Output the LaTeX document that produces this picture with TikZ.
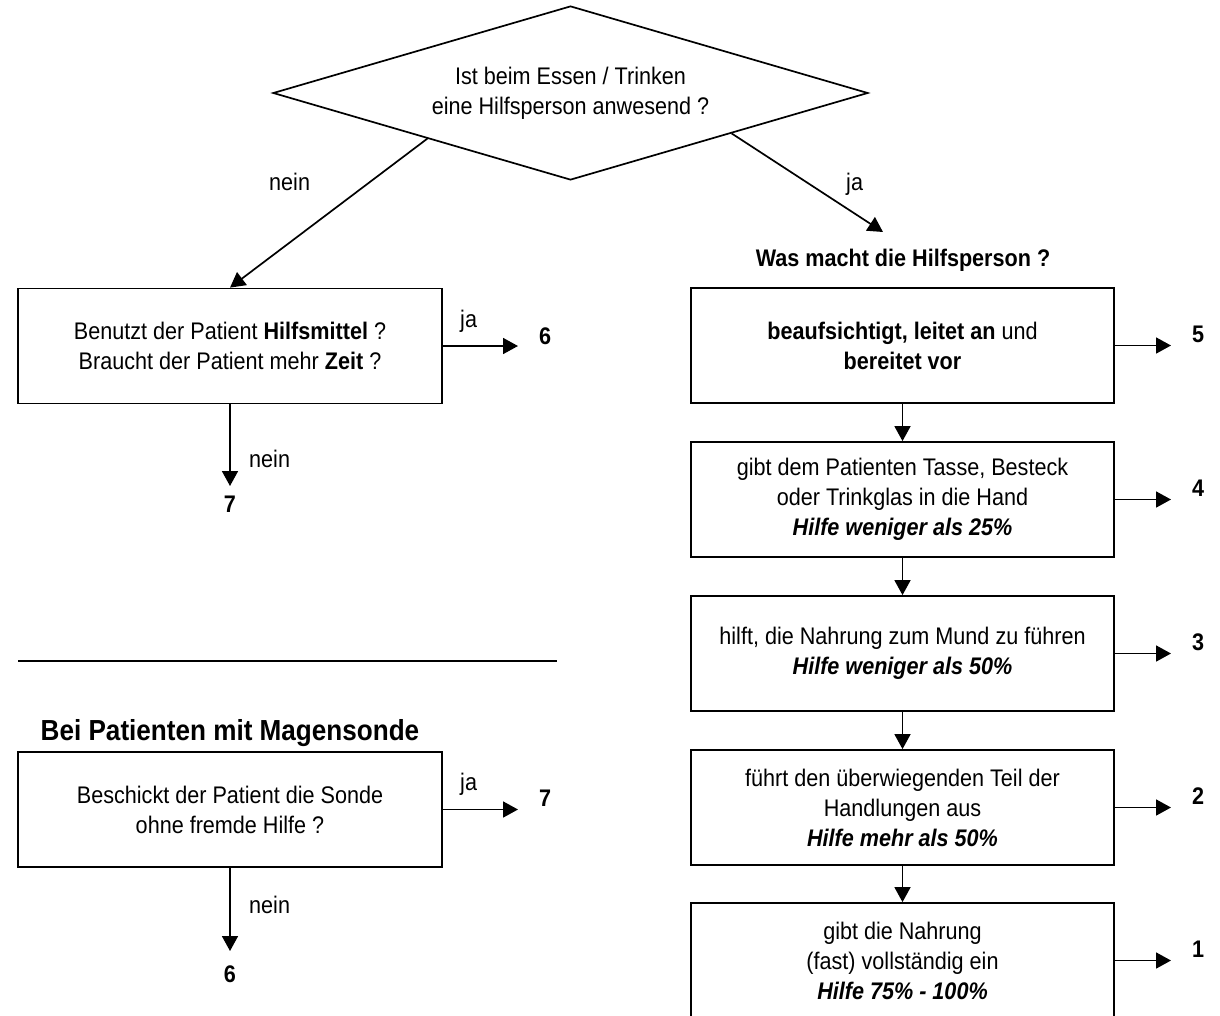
\documentclass[tikz,border=0pt]{standalone}
\usepackage{fontspec}
\setmainfont[FakeStretch=0.9]{Liberation Sans}
\usetikzlibrary{shapes.geometric,arrows.meta,calc}
\begin{document}
\begin{tikzpicture}[x=1pt,y=-1pt,
  every node/.style={font=\fontsize{24}{30}\selectfont, inner sep=0pt},
  box/.style={draw, line width=1.8pt, rectangle, align=center, minimum height=115pt},
  lbox/.style={box, minimum width=424pt},
  rbox/.style={box, minimum width=423pt},
  arr/.style={line width=1.7pt, -{Triangle[length=15pt,width=16pt]}},
  lab/.style={anchor=base west},
  num/.style={anchor=base, font=\fontsize{24}{30}\selectfont\bfseries},
]
\useasboundingbox (0,0) rectangle (1220,1015);
\clip (0,0) rectangle (1220,1015);

% decision at the top
\node[draw, diamond, line width=1.7pt, aspect=3.42, minimum width=595pt,
      minimum height=174pt, align=center] (q) at (570.5,93)
  {Ist beim Essen / Trinken\\eine Hilfsperson anwesend ?};

% left branch: aids and time
\node[lbox] (b1) at (230,346)
  {Benutzt der Patient \textbf{Hilfsmittel} ?\\Braucht der Patient mehr \textbf{Zeit} ?};
\draw[arr] ($(q.south)!0.48!(q.west)$) -- (b1.north);
\node[lab] (qnein) at (269,190) {nein};

\coordinate (b1r) at (518,346);
\draw[arr] (b1) -- (b1r);
\node[lab] (b1ja) at (460,327) {ja};
\node[num] (n6a) at (545,344) {6};

\coordinate (b1d) at (230,486);
\draw[arr] (b1) -- (b1d);
\node[lab] (b1nein) at (249,467) {nein};
\node[num] (n7a) at (230,512) {7};

% separator and tube-feeding section
\coordinate (s1) at (18,661);
\coordinate (s2) at (557,661);
\draw[line width=1.7pt] (s1) -- (s2);

\node[anchor=base, font=\fontsize{29}{35}\selectfont\bfseries] (mtitle) at (230,740)
  {Bei Patienten mit Magensonde};

\node[lbox] (b2) at (230,809.5)
  {Beschickt der Patient die Sonde\\ohne fremde Hilfe ?};
\coordinate (b2r) at (518,809.5);
\draw[arr] (b2) -- (b2r);
\node[lab] (b2ja) at (460,790) {ja};
\node[num] (n7b) at (545,806) {7};

\coordinate (b2d) at (230,951);
\draw[arr] (b2) -- (b2d);
\node[lab] (b2nein) at (249,913) {nein};
\node[num] (n6b) at (230,982) {6};

% right branch: what the helper does
\coordinate (qja) at (883,232);
\draw[arr] ($(q.south)!0.54!(q.east)$) -- (qja);
\node[lab] (qjalab) at (846,190) {ja};
\node[num] (rtitle) at (903,266) {Was macht die Hilfsperson ?};

\node[rbox] (rA) at (902.5,345.5)
  {\textbf{beaufsichtigt, leitet an} und\\\textbf{bereitet vor}};
\node[rbox] (rB) at (902.5,499.5)
  {gibt dem Patienten Tasse, Besteck\\oder Trinkglas in die Hand\\\textbf{\textit{Hilfe weniger als 25\%}}};
\node[rbox] (rC) at (902.5,653.5)
  {hilft, die Nahrung zum Mund zu führen\\\textbf{\textit{Hilfe weniger als 50\%}}};
\node[rbox] (rD) at (902.5,807.5)
  {führt den überwiegenden Teil der\\Handlungen aus\\\textbf{\textit{Hilfe mehr als 50\%}}};
\node[rbox] (rE) at (902.5,960.5)
  {gibt die Nahrung\\(fast) vollständig ein\\\textbf{\textit{Hilfe 75\% - 100\%}}};

\draw[arr] (rA) -- (rB);
\draw[arr] (rB) -- (rC);
\draw[arr] (rC) -- (rD);
\draw[arr] (rD) -- (rE);

\foreach \b/\y/\n in {rA/345.5/5, rB/499.5/4, rC/653.5/3, rD/807.5/2, rE/960.5/1}{
  \coordinate (\b r) at (1171,\y);
  \draw[arr] (\b) -- (\b r);
  \node[num] (\b n) at (1198,\y-3) {\n};
}
\end{tikzpicture}
\end{document}
